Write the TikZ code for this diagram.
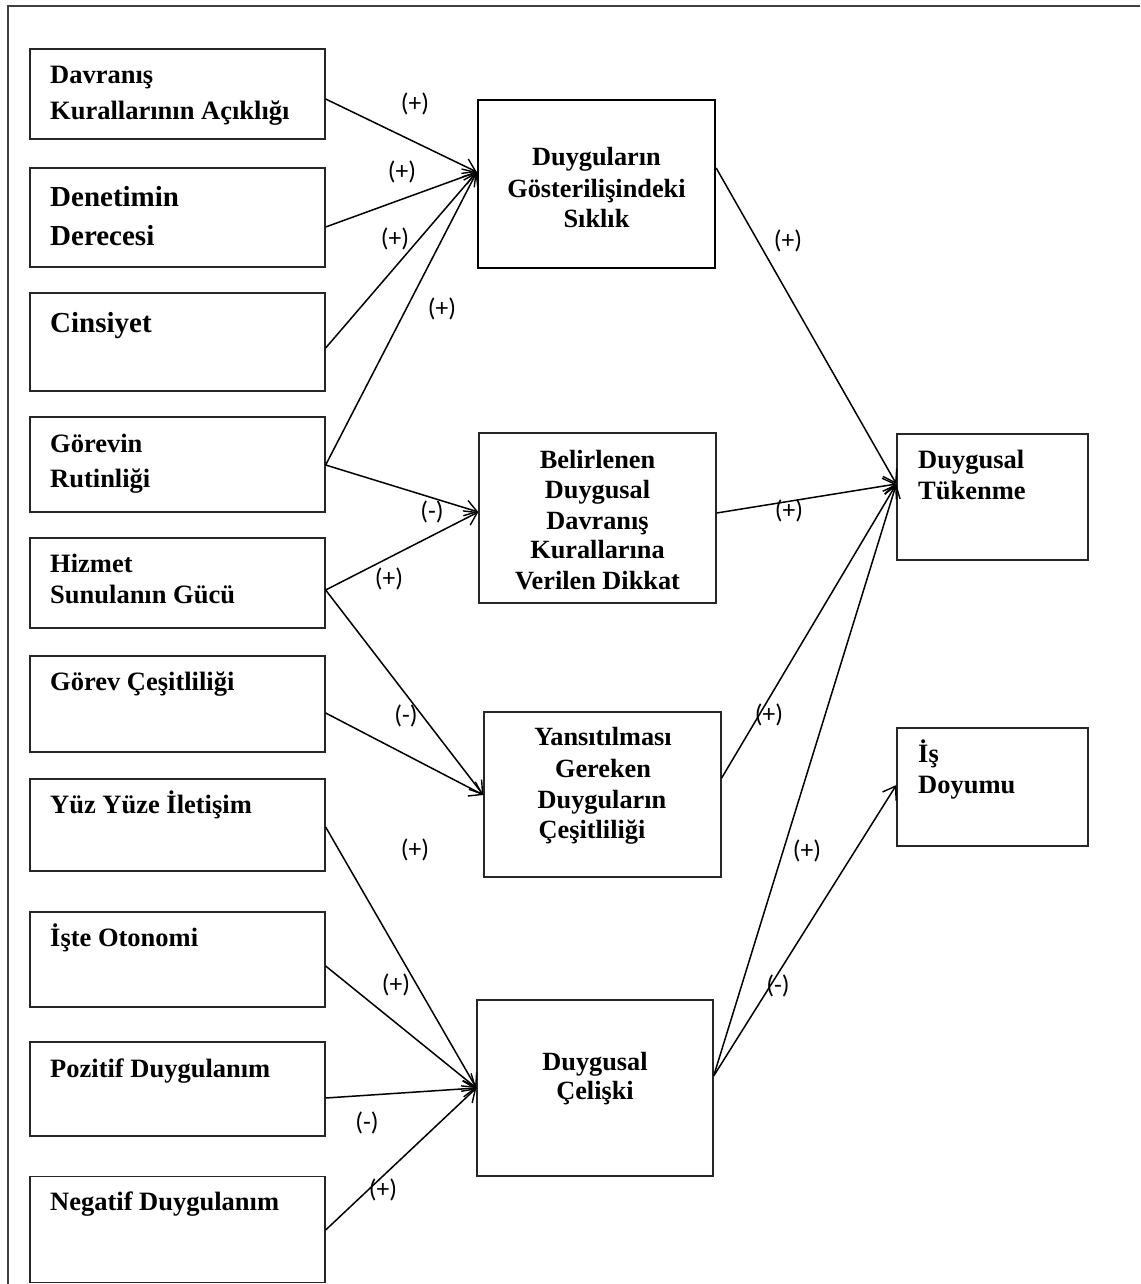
\documentclass[tikz,border=0pt]{standalone}
\usepackage{fontspec}
\setmainfont{Liberation Serif}
\newfontfamily\signfont{Carlito}
\usetikzlibrary{arrows.meta,calc}

\begin{document}
\begin{tikzpicture}[x=1pt,y=-1pt,
  box/.style 2 args={draw=black!85, line width=1.3pt, minimum width=#1, minimum height=#2, inner sep=0},
  keybox/.style 2 args={box={#1}{#2}, line width=2.4pt, draw=black},
  lefttext/.style={anchor=base west, inner sep=0, font=\fontsize{26.5}{30}\selectfont\bfseries},
  bigtext/.style={anchor=base west, inner sep=0, font=\fontsize{29}{32}\selectfont\bfseries},
  midtext/.style={anchor=base, inner sep=0, font=\fontsize{26.3}{30}\selectfont\bfseries},
  sign/.style={inner sep=0, font=\signfont\fontsize{25.5}{25.5}\selectfont},
  conn/.style={line width=1.5pt, -{Straight Barb[length=12pt,width=16pt,line width=1.4pt]}}]

\useasboundingbox (0,0) rectangle (1140,1284);

% outer frame (right and bottom sides lie outside the page)
\draw[line width=1.3pt, black!75] (8,1284) -- (8,6) -- (1140,6);

% input variables
\node[box={295pt}{90pt}]  (b1)  at (177.5,94)   {};
\node[box={295pt}{99pt}]  (b2)  at (177.5,217.5) {};
\node[box={295pt}{98pt}]  (b3)  at (177.5,342)  {};
\node[box={295pt}{95pt}]  (b4)  at (177.5,464.5) {};
\node[box={295pt}{90pt}]  (b5)  at (177.5,583)  {};
\node[box={295pt}{96pt}]  (b6)  at (177.5,704)  {};
\node[box={295pt}{92pt}]  (b7)  at (177.5,825)  {};
\node[box={295pt}{95pt}]  (b8)  at (177.5,959.5) {};
\node[box={295pt}{94pt}]  (b9)  at (177.5,1089) {};
\node[box={295pt}{106pt}] (b10) at (177.5,1229.5) {};

\node[lefttext] (t1a) at (50,84)  {Davranış};
\node[lefttext] (t1b) at (50,120) {Kurallarının Açıklığı};
\node[bigtext]  (t2a) at (50,207) {Denetimin};
\node[bigtext]  (t2b) at (50,245) {Derecesi};
\node[bigtext]  (t3)  at (50,332) {Cinsiyet};
\node[lefttext] (t4a) at (50,452) {Görevin};
\node[lefttext] (t4b) at (50,487) {Rutinliği};
\node[lefttext] (t5a) at (50,572) {Hizmet};
\node[lefttext] (t5b) at (50,603) {Sunulanın Gücü};
\node[lefttext] (t6)  at (50,690) {Görev Çeşitliliği};
\node[lefttext] (t7)  at (50,813) {Yüz Yüze İletişim};
\node[lefttext] (t8)  at (50,946) {İşte Otonomi};
\node[lefttext] (t9)  at (50,1077) {Pozitif Duygulanım};
\node[lefttext] (t10) at (50,1210) {Negatif Duygulanım};

% mediating variables
\node[keybox={237pt}{168pt}] (m1) at (596.5,184) {};
\node[box={237pt}{170pt}]    (m2) at (597.5,518) {};
\node[box={237pt}{165pt}]    (m3) at (602.5,794.5) {};
\node[box={236pt}{176pt}]    (m4) at (595,1088) {};

\node[midtext] (n1a) at (596.5,166) {Duyguların};
\node[midtext] (n1b) at (596.5,197) {Gösterilişindeki};
\node[midtext] (n1c) at (596.5,227) {Sıklık};
\node[midtext] (n2a) at (597.5,468) {Belirlenen};
\node[midtext] (n2b) at (597.5,498) {Duygusal};
\node[midtext] (n2c) at (597.5,529) {Davranış};
\node[midtext] (n2d) at (597.5,558) {Kurallarına};
\node[midtext] (n2e) at (597.5,589) {Verilen Dikkat};
\node[midtext] (n3a) at (603,745) {Yansıtılması};
\node[midtext] (n3b) at (603,777) {Gereken};
\node[midtext] (n3c) at (602,808) {Duyguların};
\node[midtext] (n3d) at (592,838) {Çeşitliliği};
\node[midtext] (n4a) at (595,1070) {Duygusal};
\node[midtext] (n4b) at (595,1099) {Çelişki};

% outcome variables
\node[box={191pt}{126pt}] (o1) at (992.5,497) {};
\node[box={191pt}{118pt}] (o2) at (992.5,787) {};
\node[lefttext] (r1a) at (918,468) {Duygusal};
\node[lefttext] (r1b) at (918,499) {Tükenme};
\node[lefttext] (r2a) at (918,762) {İş};
\node[lefttext] (r2b) at (918,793) {Doyumu};

% entry points on the target boxes
\coordinate (m1in) at ($(m1.west)+(0,-12)$);
\coordinate (m2in) at ($(m2.west)+(0,-6)$);
\coordinate (m3in) at ($(m3.west)+(0,0.5)$);
\coordinate (m4in) at (m4.west);
\coordinate (o1in) at ($(o1.west)+(0,-13)$);
\coordinate (o2in) at ($(o2.west)+(0,-2)$);

% exit points on the source boxes
\coordinate (b1out)  at ($(b1.east)+(0,5)$);
\coordinate (b2out)  at ($(b2.east)+(0,9.5)$);
\coordinate (b3out)  at ($(b3.east)+(0,6)$);
\coordinate (b4out)  at ($(b4.east)+(0,0.5)$);
\coordinate (b5out)  at ($(b5.east)+(0,7)$);
\coordinate (b6out)  at ($(b6.east)+(0,9)$);
\coordinate (b7out)  at ($(b7.east)+(0,2)$);
\coordinate (b8out)  at ($(b8.east)+(0,6.5)$);
\coordinate (b9out)  at ($(b9.east)+(0,9)$);
\coordinate (b10out) at ($(b10.east)+(0,0.5)$);
\coordinate (m1out)  at ($(m1.east)+(0,-16)$);
\coordinate (m2out)  at ($(m2.east)+(0,-5)$);
\coordinate (m3out)  at ($(m3.east)+(0,-16.5)$);
\coordinate (m4out)  at ($(m4.east)+(0,-12)$);

% paths
\draw[conn] (b1out) -- (m1in);
\draw[conn] (b2out) -- (m1in);
\draw[conn] (b3out) -- (m1in);
\draw[conn] (b4out) -- (m1in);
\draw[conn] (b4out) -- (m2in);
\draw[conn] (b5out) -- (m2in);
\draw[conn] (b5out) -- (m3in);
\draw[conn] (b6out) -- (m3in);
\draw[conn] (b7out) -- (m4in);
\draw[conn] (b8out) -- (m4in);
\draw[conn] (b9out) -- (m4in);
\draw[conn] (b10out) -- (m4in);
\draw[conn] (m1out) -- (o1in);
\draw[conn] (m2out) -- (o1in);
\draw[conn] (m3out) -- (o1in);
\draw[conn] (m4out) -- (o1in);
\draw[conn] (m4out) -- (o2in);

% signs of the paths
\node[sign] (s1)  at (415,104)  {(+)};
\node[sign] (s2)  at (402,172)  {(+)};
\node[sign] (s3)  at (395,239)  {(+)};
\node[sign] (s4)  at (442,309)  {(+)};
\node[sign] (s5)  at (432,512)  {(-)};
\node[sign] (s6)  at (389,579)  {(+)};
\node[sign] (s7)  at (406,716)  {(-)};
\node[sign] (s8)  at (415,850)  {(+)};
\node[sign] (s9)  at (396,985)  {(+)};
\node[sign] (s10) at (367,1123) {(-)};
\node[sign] (s11) at (383,1190) {(+)};
\node[sign] (s12) at (788,241)  {(+)};
\node[sign] (s13) at (789,511)  {(+)};
\node[sign] (s14) at (769,715)  {(+)};
\node[sign] (s15) at (807,851)  {(+)};
\node[sign] (s16) at (778,986)  {(-)};
\end{tikzpicture}
\end{document}
